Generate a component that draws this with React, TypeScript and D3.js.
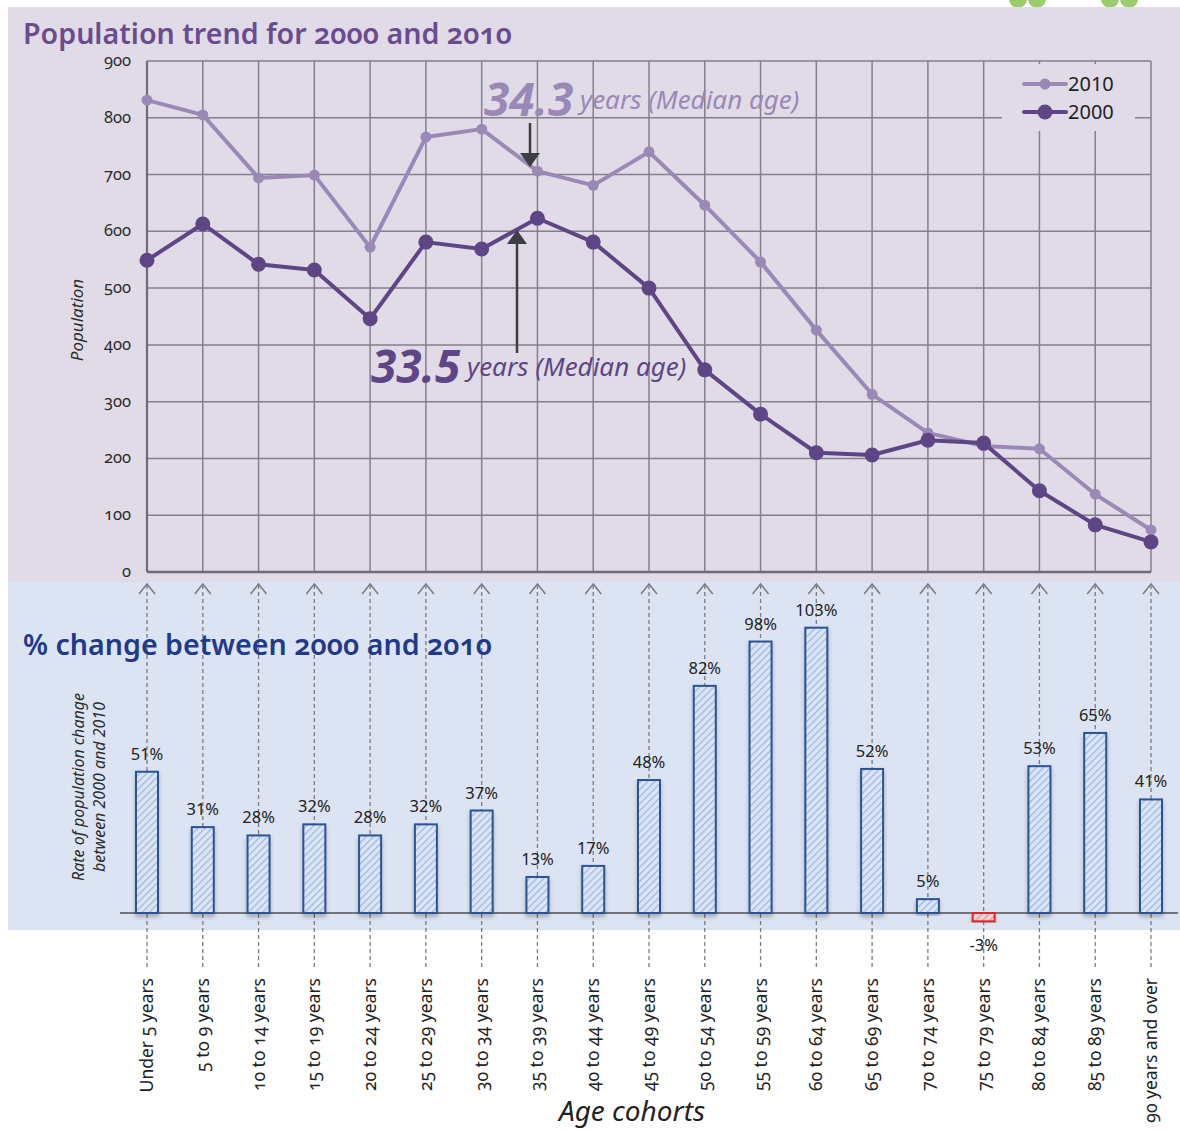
import React from "react";
import * as d3 from "d3";

const cohorts = [
  "Under 5 years", "5 to 9 years", "10 to 14 years", "15 to 19 years", "20 to 24 years",
  "25 to 29 years", "30 to 34 years", "35 to 39 years", "40 to 44 years", "45 to 49 years",
  "50 to 54 years", "55 to 59 years", "60 to 64 years", "65 to 69 years", "70 to 74 years",
  "75 to 79 years", "80 to 84 years", "85 to 89 years", "90 years and over",
];
const pop2010 = [831, 805, 694, 699, 572, 766, 780, 706, 681, 740, 646, 546, 426, 313, 245, 222, 217, 137, 74];
const pop2000 = [549, 613, 542, 532, 446, 581, 569, 623, 581, 500, 356, 278, 210, 206, 232, 227, 143, 83, 53];
const pctChange = [51, 31, 28, 32, 28, 32, 37, 13, 17, 48, 82, 98, 103, 52, 5, -3, 53, 65, 41];
const popTicks = [0, 100, 200, 300, 400, 500, 600, 700, 800, 900];

const W = 1180;
const H = 1130;
const C2010 = "#9a89b6";
const C2000 = "#5e4686";
const GRID = "#847f8c";
const FONT = "'Noto Sans', 'Open Sans', sans-serif";

export default function App() {
  const x = d3.scalePoint<string>().domain(cohorts).range([147, 1151]);
  const y = d3.scaleLinear().domain([0, 900]).range([572, 61]);
  const yb = d3.scaleLinear().domain([0, 100]).range([913, 636]);

  const line = d3.line<number>()
    .x((_, i) => x(cohorts[i]) as number)
    .y(d => y(d));

  const series = [
    { name: "2010", data: pop2010, color: C2010, r: 5.5, w: 4 },
    { name: "2000", data: pop2000, color: C2000, r: 7.5, w: 4 },
  ];

  return (
    <div style={{ position: "absolute", left: 0, top: 0 }}>
      <svg width={W} height={H} style={{ display: "block", fontFamily: FONT }}>
        <defs>
          <pattern id="hatchBlue" patternUnits="userSpaceOnUse" width="5" height="5" patternTransform="rotate(45)">
            <rect width="5" height="5" fill="#dbe5f5" />
            <line x1="0" y1="0" x2="0" y2="5" stroke="#9db6de" strokeWidth="2.4" />
          </pattern>
          <pattern id="hatchRed" patternUnits="userSpaceOnUse" width="5" height="5" patternTransform="rotate(45)">
            <rect width="5" height="5" fill="#f6d4d6" />
            <line x1="0" y1="0" x2="0" y2="5" stroke="#ef8a90" strokeWidth="2.4" />
          </pattern>
          <filter id="shadow" x="-30%" y="-10%" width="160%" height="130%">
            <feDropShadow dx="0" dy="3" stdDeviation="2" floodColor="#000" floodOpacity="0.25" />
          </filter>
          <marker id="arrowHead" viewBox="0 0 10 10" refX="9" refY="5" markerUnits="userSpaceOnUse"
            markerWidth="20" markerHeight="20" orient="auto">
            <path d="M3,0 L10,5 L3,10 z" fill="#3f3d44" />
          </marker>
        </defs>

        <rect x={0} y={0} width={W} height={H} fill="#fff" />
        {/* decorative dots at the top right */}
        {[1018, 1037, 1110, 1129].map(cx => (
          <circle key={cx} cx={cx} cy={-1} r={9} fill="#9ccc6c" />
        ))}

        {/* panels */}
        <rect x={8} y={7} width={W - 8} height={575} fill="#e1dbe8" />
        <rect x={8} y={582} width={W - 8} height={348} fill="#dce4f3" />

        {/* ===== top chart ===== */}
        <text x={23} y={44} fontSize={28.6} fontWeight={600} fill="#6a4c8e" style={{ fontVariantNumeric: "oldstyle-nums" }}>
          Population trend for 2000 and 2010
        </text>

        {popTicks.filter(t => t > 0).map(t => (
          <line key={"h" + t} x1={x.range()[0]} x2={x.range()[1]} y1={y(t)} y2={y(t)} stroke={GRID} strokeWidth={1.5} />
        ))}
        {cohorts.map(c => (
          <line key={"v" + c} x1={x(c)} x2={x(c)} y1={y(900)} y2={y(0)} stroke={GRID} strokeWidth={1.5} />
        ))}
        <line x1={147} x2={147} y1={y(900)} y2={y(0)} stroke="#6f6a77" strokeWidth={2.2} />
        <line x1={147} x2={1151} y1={y(0)} y2={y(0)} stroke="#6f6a77" strokeWidth={2.5} />

        {popTicks.map(t => (
          <text key={"t" + t} x={131} y={y(t) + 5} textAnchor="end" fontSize={16.5} fill="#2b2b2b"
            style={{ fontVariantNumeric: "oldstyle-nums" }}>
            {t}
          </text>
        ))}
        <text transform="translate(83,320) rotate(-90)" textAnchor="middle" fontSize={17} fontStyle="italic" fill="#2b2b2b">
          Population
        </text>

        {/* legend */}
        <rect x={1002} y={64} width={133} height={67} fill="#e1dbe8" />
        {series.map((s, i) => (
          <g key={"lg" + s.name} transform={`translate(1024,${84 + i * 28})`}>
            <line x1={0} x2={42} y1={0} y2={0} stroke={s.color} strokeWidth={4} strokeLinecap="round" />
            <circle cx={21} cy={0} r={s.r} fill={s.color} />
            <text x={44} y={7} fontSize={20} fill="#1e1e1e">{s.name}</text>
          </g>
        ))}

        {series.map(s => (
          <g key={s.name}>
            <path d={line(s.data) as string} fill="none" stroke={s.color} strokeWidth={s.w} strokeLinejoin="round" />
            {s.data.map((v, i) => (
              <circle key={i} cx={x(cohorts[i])} cy={y(v)} r={s.r} fill={s.color} />
            ))}
          </g>
        ))}

        {/* median age annotations */}
        <text x={484} y={116} fontSize={46} fontStyle="italic" fontWeight={700} fill={C2010}>34.3</text>
        <text x={580} y={109} fontSize={26} fontStyle="italic" fill={C2010}>years (Median age)</text>
        <line x1={530} x2={530} y1={123} y2={165} stroke="#3f3d44" strokeWidth={2.5} markerEnd="url(#arrowHead)" />

        <text x={371} y={383} fontSize={46} fontStyle="italic" fontWeight={700} fill={C2000}>33.5</text>
        <text x={467} y={376} fontSize={26} fontStyle="italic" fill={C2000}>years (Median age)</text>
        <line x1={517} x2={517} y1={353} y2={232} stroke="#3f3d44" strokeWidth={2.5} markerEnd="url(#arrowHead)" />

        {/* ===== bottom chart ===== */}
        {cohorts.map(c => {
          const cx = x(c) as number;
          return (
            <g key={"d" + c} stroke="#7b7b80" fill="none">
              <line x1={cx} x2={cx} y1={585} y2={968} strokeWidth={1.3} strokeDasharray="4,3" />
              <path d={`M${cx - 8},${594} L${cx},${584} L${cx + 8},${594}`} strokeWidth={1.5} />
            </g>
          );
        })}

        <text x={23} y={655} fontSize={28.6} fontWeight={600} fill="#20398a" style={{ fontVariantNumeric: "oldstyle-nums" }}>
          % change between 2000 and 2010
        </text>

        <text transform="translate(84,787) rotate(-90)" textAnchor="middle" fontSize={16} fontStyle="italic" fill="#2b2b2b">
          <tspan x={0} dy={0}>Rate of population change</tspan>
          <tspan x={0} dy={21}>between 2000 and 2010</tspan>
        </text>

        <line x1={120} x2={1178} y1={yb(0)} y2={yb(0)} stroke="#75737b" strokeWidth={2} />

        {pctChange.map((v, i) => {
          const cx = x(cohorts[i]) as number;
          const top = yb(Math.max(v, 0));
          const bottom = yb(Math.min(v, 0));
          const neg = v < 0;
          return (
            <g key={"b" + i}>
              <rect x={cx - 11} y={top} width={22} height={bottom - top}
                fill={neg ? "url(#hatchRed)" : "url(#hatchBlue)"}
                stroke={neg ? "#e0262c" : "#2c5394"} strokeWidth={2}
                filter="url(#shadow)" />
              <text x={cx} y={neg ? bottom + 30 : top - 12} textAnchor="middle" fontSize={16.5} fill="#222">
                {v}%
              </text>
            </g>
          );
        })}

        {cohorts.map(c => (
          <text key={"xl" + c} transform={`translate(${(x(c) as number) + 6},978) rotate(-90)`} textAnchor="end"
            fontSize={17.5} fill="#222" style={{ fontVariantNumeric: "oldstyle-nums" }}>
            {c}
          </text>
        ))}

        <text x={632} y={1121} textAnchor="middle" fontSize={28} fontStyle="italic" fill="#222">Age cohorts</text>
      </svg>
    </div>
  );
}
